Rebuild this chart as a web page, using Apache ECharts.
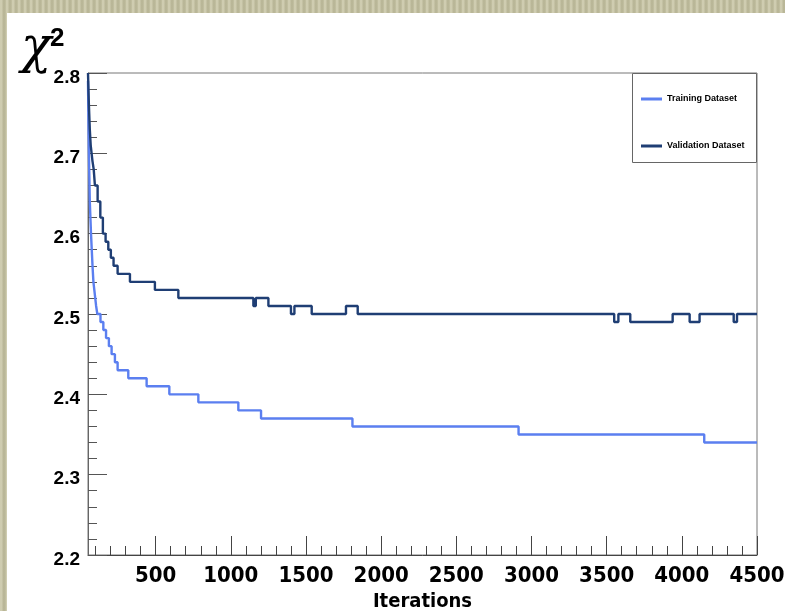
<!DOCTYPE html>
<html>
<head>
<meta charset="utf-8">
<script src="https://cdn.jsdelivr.net/npm/echarts@6/dist/echarts.min.js"></script>
<style>
html,body{margin:0;padding:0;}
body{width:785px;height:611px;overflow:hidden;
background-color:#c4c1a2;
background-image:repeating-linear-gradient(90deg, rgba(255,255,240,0.18) 0px, rgba(255,255,240,0.18) 2px, rgba(90,90,60,0.10) 3px, rgba(90,90,60,0.10) 5px, rgba(255,255,240,0.05) 6px);}
#chart{width:785px;height:611px;}
</style>
</head>
<body>
<div id="chart"></div>
<script>
// ---- data ----
const trainIter = [50, 53, 56, 59, 62, 66, 70, 75, 80, 86, 92, 98, 104, 112, 133, 152, 170, 189, 207, 229, 247, 318, 440, 591, 784, 1050, 1201, 1809, 2914, 4149, 4500];
const trainChi2 = [2.79, 2.74, 2.70, 2.67, 2.64, 2.62, 2.60, 2.58, 2.56, 2.54, 2.53, 2.52, 2.51, 2.50, 2.49, 2.48, 2.47, 2.46, 2.45, 2.44, 2.43, 2.42, 2.41, 2.40, 2.39, 2.38, 2.37, 2.36, 2.35, 2.34, 2.34];
const valIter = [50, 56, 62, 68, 74, 80, 88, 96, 114, 132, 149, 167, 185, 202, 220, 247, 329, 495, 651, 1150, 1166, 1250, 1400, 1423, 1538, 1766, 1844, 3550, 3578, 3657, 3939, 4052, 4118, 4345, 4367, 4500];
const valChi2 = [2.80, 2.76, 2.73, 2.71, 2.70, 2.69, 2.68, 2.66, 2.64, 2.62, 2.60, 2.59, 2.58, 2.57, 2.56, 2.55, 2.54, 2.53, 2.52, 2.51, 2.52, 2.51, 2.50, 2.51, 2.50, 2.51, 2.50, 2.49, 2.50, 2.49, 2.50, 2.49, 2.50, 2.49, 2.50, 2.50];
const xMajorTicks = [500, 1000, 1500, 2000, 2500, 3000, 3500, 4000, 4500];
const xMinorTicks = [100, 200, 300, 400, 600, 700, 800, 900, 1100, 1200, 1300, 1400, 1600, 1700, 1800, 1900, 2100, 2200, 2300, 2400, 2600, 2700, 2800, 2900, 3100, 3200, 3300, 3400, 3600, 3700, 3800, 3900, 4100, 4200, 4300, 4400];
const seriesNames = ['Training Dataset', 'Validation Dataset'];
const seriesColors = ['#5b7ff0', '#1f3e74'];

const xMin = 50, xMax = 4500, yMin = 2.2, yMax = 2.8;

const chart = echarts.init(document.getElementById('chart'), null, {renderer: 'canvas'});
const narrow = '"DejaVu Sans Condensed","Liberation Sans Narrow","Liberation Sans",Arial,sans-serif';
const sans = '"Liberation Sans",Arial,sans-serif';

const xCommon = {
  type: 'value', min: xMin, max: xMax, position: 'bottom',
  splitLine: {show: false}
};

chart.setOption({
  animation: false,
  backgroundColor: 'transparent',
  graphic: [
    {type: 'rect', left: 7, top: 13, z: -10, shape: {width: 778, height: 598}, style: {fill: '#ffffff'}, silent: true},
    {type: 'rect', left: 632, top: 73, z: 50, shape: {width: 124, height: 89}, style: {fill: '#ffffff', stroke: '#666666', lineWidth: 1}, silent: true},
    {type: 'text', left: 21, top: 24, z: 60, style: {text: 'χ', font: 'italic 50px "DejaVu Serif", "Liberation Serif", serif', fill: '#000'}},
    {type: 'text', left: 50, top: 26, z: 61, style: {text: '2', font: 'bold 26px "Liberation Sans", Arial, sans-serif', fill: '#000'}}
  ],
  grid: {left: 88, right: 28, top: 73, bottom: 56, outerBoundsMode: 'none', containLabel: false,
    show: true, borderColor: '#777', borderWidth: 1, backgroundColor: 'transparent'},
  legend: {
    data: seriesNames, orient: 'vertical', left: 636, top: 89, itemGap: 37, z: 60,
    icon: 'rect', itemWidth: 21, itemHeight: 3,
    textStyle: {fontFamily: sans, fontWeight: 'bold', fontSize: 9, color: '#000', lineHeight: 10},
    selectedMode: false
  },
  xAxis: [
    Object.assign({}, xCommon, {
      name: 'Iterations', nameLocation: 'middle', nameGap: 24,
      nameTextStyle: {fontFamily: narrow, fontWeight: 'bold', fontSize: 20, color: '#000'},
      axisLine: {show: true, onZero: false, lineStyle: {color: '#444', width: 1}},
      axisTick: {show: true, inside: true, length: 19, customValues: xMajorTicks, lineStyle: {color: '#444', width: 1}},
      axisLabel: {show: true, customValues: xMajorTicks, margin: 10, fontFamily: narrow, fontWeight: 'bold', fontSize: 22, color: '#000',
        formatter: v => String(v)}
    }),
    Object.assign({}, xCommon, {
      axisLine: {show: false, onZero: false},
      axisTick: {show: true, inside: true, length: 9, customValues: xMinorTicks, lineStyle: {color: '#444', width: 1}},
      axisLabel: {show: false}
    })
  ],
  yAxis: {
    type: 'value', min: yMin, max: yMax, interval: 0.1,
    splitLine: {show: false},
    axisLine: {show: true, onZero: false, lineStyle: {color: '#666', width: 1}},
    axisTick: {show: true, inside: true, length: 19, lineStyle: {color: '#555', width: 1}},
    minorTick: {show: true, splitNumber: 5, length: 9, lineStyle: {color: '#555', width: 1}},
    axisLabel: {margin: 8, color: '#000',
      formatter: v => '{t|' + v.toFixed(1) + '}',
      rich: {t: {fontFamily: sans, fontWeight: 'bold', fontSize: 19, color: '#000', padding: [9, 0, 0, 0]}}}
  },
  series: [
    {name: seriesNames[0], type: 'line', step: 'end', xAxisIndex: 0, showSymbol: false, symbol: 'none',
      color: seriesColors[0], lineStyle: {color: seriesColors[0], width: 2.4}, z: 3,
      data: trainIter.map((x, i) => [x, trainChi2[i]])},
    {name: seriesNames[1], type: 'line', step: 'end', xAxisIndex: 0, showSymbol: false, symbol: 'none',
      color: seriesColors[1], lineStyle: {color: seriesColors[1], width: 2.4}, z: 4,
      data: valIter.map((x, i) => [x, valChi2[i]])}
  ]
});
</script>
</body>
</html>
